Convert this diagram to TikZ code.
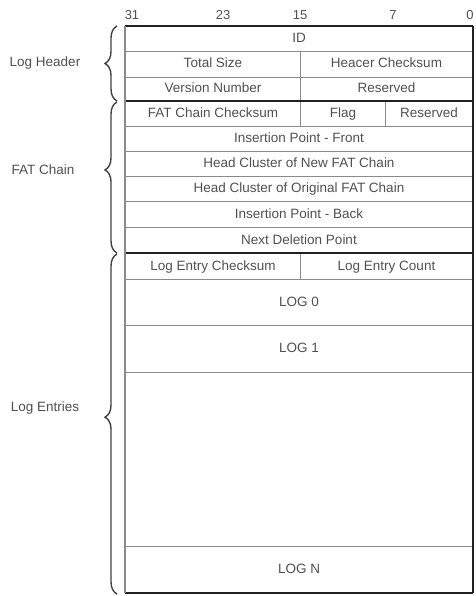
\documentclass[tikz,border=0pt]{standalone}
\usepackage{fontspec}
\setmainfont{Liberation Sans}
\usetikzlibrary{decorations.pathreplacing}
\definecolor{txt}{HTML}{505050}
\definecolor{ln}{HTML}{8A8A8A}
\definecolor{dk}{HTML}{202020}
\begin{document}
\begin{tikzpicture}[x=1pt,y=-1pt,
  cell/.style={draw=ln, line width=1pt, anchor=north west, inner sep=0pt, text=txt,
    text height=9.5pt, text depth=2.5pt,
    font=\fontsize{13.5}{15}\selectfont},
  bit/.style={text=txt, font=\fontsize{13}{15}\selectfont, inner sep=0pt},
  lbl/.style={text=txt, font=\fontsize{13.5}{15}\selectfont, inner sep=0pt},
  sep/.style={draw=dk, line width=2pt},
  brc/.style={draw=dk!85, line width=1.4pt, decorate, decoration={brace, amplitude=12pt}}]
\useasboundingbox (0,0) rectangle (475,596);
% bit numbers
\node[bit] (b31) at (132,15) {31};
\node[bit] (b23) at (223,15) {23};
\node[bit] (b15) at (300,15) {15};
\node[bit] (b7) at (393,15) {7};
\node[bit] (b0) at (470,15) {0};
% Log header
\node[cell, minimum width=347, minimum height=25] (id) at (125,26) {ID};
\node[cell, minimum width=175, minimum height=26] (tsize) at (125,51) {Total Size};
\node[cell, minimum width=172, minimum height=26] (hcs) at (300,51) {Heacer Checksum};
\node[cell, minimum width=175, minimum height=24] (ver) at (125,77) {Version Number};
\node[cell, minimum width=172, minimum height=24] (res1) at (300,77) {Reserved};
% FAT chain
\node[cell, minimum width=175, minimum height=25] (fcs) at (125,101) {FAT Chain Checksum};
\node[cell, minimum width=85, minimum height=25] (flag) at (300,101) {Flag};
\node[cell, minimum width=87, minimum height=25] (res2) at (385,101) {Reserved};
\node[cell, minimum width=347, minimum height=25] (ipf) at (125,126) {Insertion Point - Front};
\node[cell, minimum width=347, minimum height=25] (hnew) at (125,151) {Head Cluster of New FAT Chain};
\node[cell, minimum width=347, minimum height=25] (horig) at (125,176) {Head Cluster of Original FAT Chain};
\node[cell, minimum width=347, minimum height=26] (ipb) at (125,201) {Insertion Point - Back};
\node[cell, minimum width=347, minimum height=26] (ndp) at (125,227) {Next Deletion Point};
% Log entries
\node[cell, minimum width=175, minimum height=26] (lecs) at (125,253) {Log Entry Checksum};
\node[cell, minimum width=172, minimum height=26] (lecnt) at (300,253) {Log Entry Count};
\node[cell, minimum width=347, minimum height=46] (log0) at (125,279) {LOG 0};
\node[cell, minimum width=347, minimum height=47] (log1) at (125,325) {LOG 1};
\node[cell, minimum width=347, minimum height=174] (gap) at (125,372) {};
\node[cell, minimum width=347, minimum height=46] (logn) at (125,546) {LOG N};
% heavy separators
\draw[sep] (id.north west) -- (id.north east);
\draw[sep] (fcs.north west) -- (res2.north east);
\draw[sep] (lecs.north west) -- (lecnt.north east);
\draw[sep] (logn.south west) -- (logn.south east);
\draw[sep] (id.north east) -- (logn.south east);
\draw[draw=ln, line width=1.6pt] (id.north west) -- (logn.south west);
% braces
\coordinate (h1) at (117,101);
\coordinate (h2) at (117,26);
\coordinate (f1) at (117,253);
\coordinate (f2) at (117,102);
\coordinate (e1) at (117,594);
\coordinate (e2) at (117,254);
\draw[brc] (h1) -- (h2);
\draw[brc, decoration={aspect=0.55}] (f1) -- (f2);
\draw[brc, decoration={aspect=0.52}] (e1) -- (e2);
\node[lbl] (lh) at (45,63) {Log Header};
\node[lbl] (fc) at (43,170) {FAT Chain};
\node[lbl] (le) at (45,408) {Log Entries};
\end{tikzpicture}
\end{document}
